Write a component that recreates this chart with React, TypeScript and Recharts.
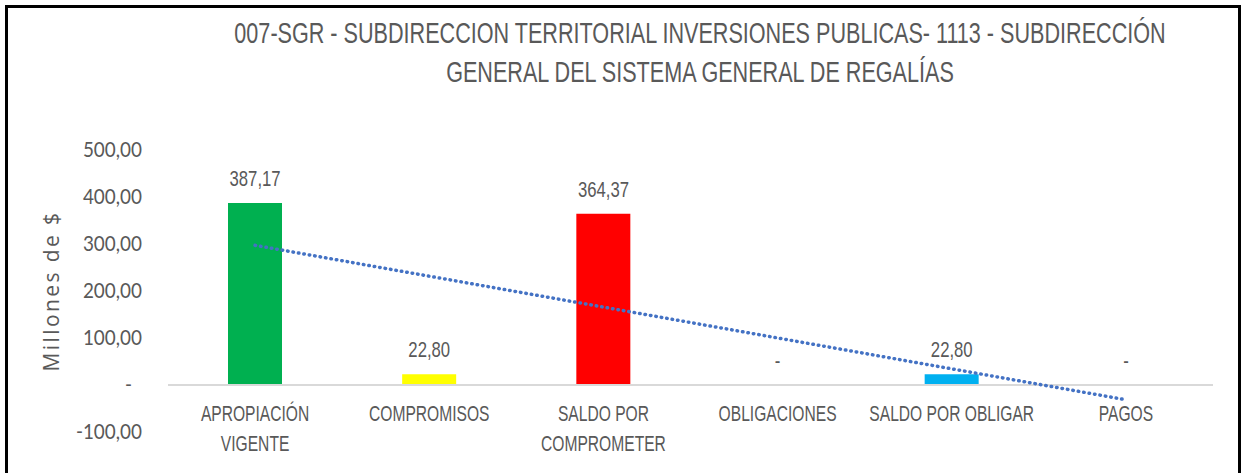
import React from "react";
import { ComposedChart, Bar, Line, XAxis, YAxis, Cell, LabelList, ReferenceLine } from "recharts";

const categories = [
  "APROPIACIÓN VIGENTE",
  "COMPROMISOS",
  "SALDO POR COMPROMETER",
  "OBLIGACIONES",
  "SALDO POR OBLIGAR",
  "PAGOS",
];
const tickLines = [
  ["APROPIACIÓN", "VIGENTE"],
  ["COMPROMISOS"],
  ["SALDO POR", "COMPROMETER"],
  ["OBLIGACIONES"],
  ["SALDO POR OBLIGAR"],
  ["PAGOS"],
];
const values = [387.17, 22.8, 364.37, 0, 22.8, 0];
const barColors = ["#00B050", "#FFFF00", "#FF0000", "#7F7F7F", "#00B0F0", "#7F7F7F"];
const trendValues: (number | null)[] = [297.2, null, null, null, null, -31.4];
const yTicks = [-100, 0, 100, 200, 300, 400, 500];
const titleLines = [
  "007-SGR - SUBDIRECCION TERRITORIAL INVERSIONES PUBLICAS- 1113 - SUBDIRECCIÓN",
  "GENERAL DEL SISTEMA GENERAL DE REGALÍAS",
];
const yLabel = "Millones de $";

const data = categories.map((c, i) => ({
  name: c,
  value: values[i],
  trend: trendValues[i],
}));

const NARROW = "'Liberation Sans', Arial, sans-serif";
const GRAY = "#595959";

const fmt = (v: number) => (v === 0 ? "-" : v.toFixed(2).replace(".", ","));

const NarrowText = ({ x, y, size, scale, children, anchor, family }: any) => (
  <text
    transform={`translate(${x},${y}) scale(${scale},1)`}
    x={0}
    y={0}
    textAnchor={anchor || "middle"}
    fill={GRAY}
    fontSize={size}
    fontFamily={family || NARROW}
  >
    {children}
  </text>
);

const YTick = (props: any) => {
  const { x, y, payload } = props;
  const v = payload.value;
  return (
    <NarrowText
      x={v === 0 ? x - 10 : x}
      y={y + 7}
      size={21}
      scale={0.9}
      anchor="end"
      family="Lato, 'Noto Sans', sans-serif"
    >
      {fmt(v)}
    </NarrowText>
  );
};

const XTick = (props: any) => {
  const { x, index } = props;
  const lines = tickLines[index] || [];
  return (
    <g>
      {lines.map((l, i) => (
        <NarrowText key={i} x={x} y={421 + i * 30} size={22} scale={0.71}>
          {l}
        </NarrowText>
      ))}
    </g>
  );
};

const PointLabel = (props: any) => {
  const { x, y, value } = props;
  return (
    <NarrowText x={x} y={y - 17} size={22} scale={0.76}>
      {fmt(value)}
    </NarrowText>
  );
};

export default function App() {
  return (
    <div style={{ position: "absolute", left: 0, top: 0, width: 1243, height: 473, background: "#fff", overflow: "hidden" }}>
      <div
        style={{
          position: "absolute",
          left: 5,
          top: 5,
          width: 1236,
          height: 490,
          border: "3px solid #000",
          boxSizing: "border-box",
        }}
      />
      <svg width={1243} height={100} style={{ position: "absolute", left: 0, top: 0 }}>
        {titleLines.map((t, i) => (
          <NarrowText key={i} x={700} y={43 + i * 39} size={29} scale={0.745}>
            {t}
          </NarrowText>
        ))}
      </svg>
      <div style={{ position: "absolute", left: 0, top: 0 }}>
        <ComposedChart
          width={1243}
          height={473}
          data={data}
          margin={{ top: 150, right: 30, bottom: 11, left: 8 }}
        >
          <XAxis
            dataKey="name"
            axisLine={false}
            tickLine={false}
            tick={<XTick />}
            interval={0}
            height={30}
          />
          <YAxis
            domain={[-100, 500]}
            ticks={yTicks}
            axisLine={false}
            tickLine={false}
            tick={<YTick />}
            width={160}
            tickMargin={20}
            interval={0}
            label={{
              value: yLabel,
              angle: -90,
              position: "insideLeft",
              offset: 44,
              style: { textAnchor: "middle", fill: GRAY, fontSize: 21, fontFamily: "'Open Sans', 'Noto Sans', sans-serif", letterSpacing: 2.4 },
            }}
          />
          <ReferenceLine y={0} stroke="#D9D9D9" strokeWidth={2} />
          <Bar dataKey="value" barSize={54} isAnimationActive={false}>
            {data.map((d, i) => (
              <Cell key={i} fill={barColors[i]} />
            ))}
          </Bar>
          <Line
            type="linear"
            dataKey="trend"
            connectNulls
            dot={false}
            activeDot={false}
            stroke="#4472C4"
            strokeWidth={3.5}
            strokeDasharray="0.5 5"
            strokeLinecap="round"
            isAnimationActive={false}
          />
          <Line
            type="linear"
            dataKey="value"
            stroke="none"
            dot={false}
            activeDot={false}
            isAnimationActive={false}
          >
            <LabelList dataKey="value" content={<PointLabel />} />
          </Line>
        </ComposedChart>
      </div>
    </div>
  );
}
